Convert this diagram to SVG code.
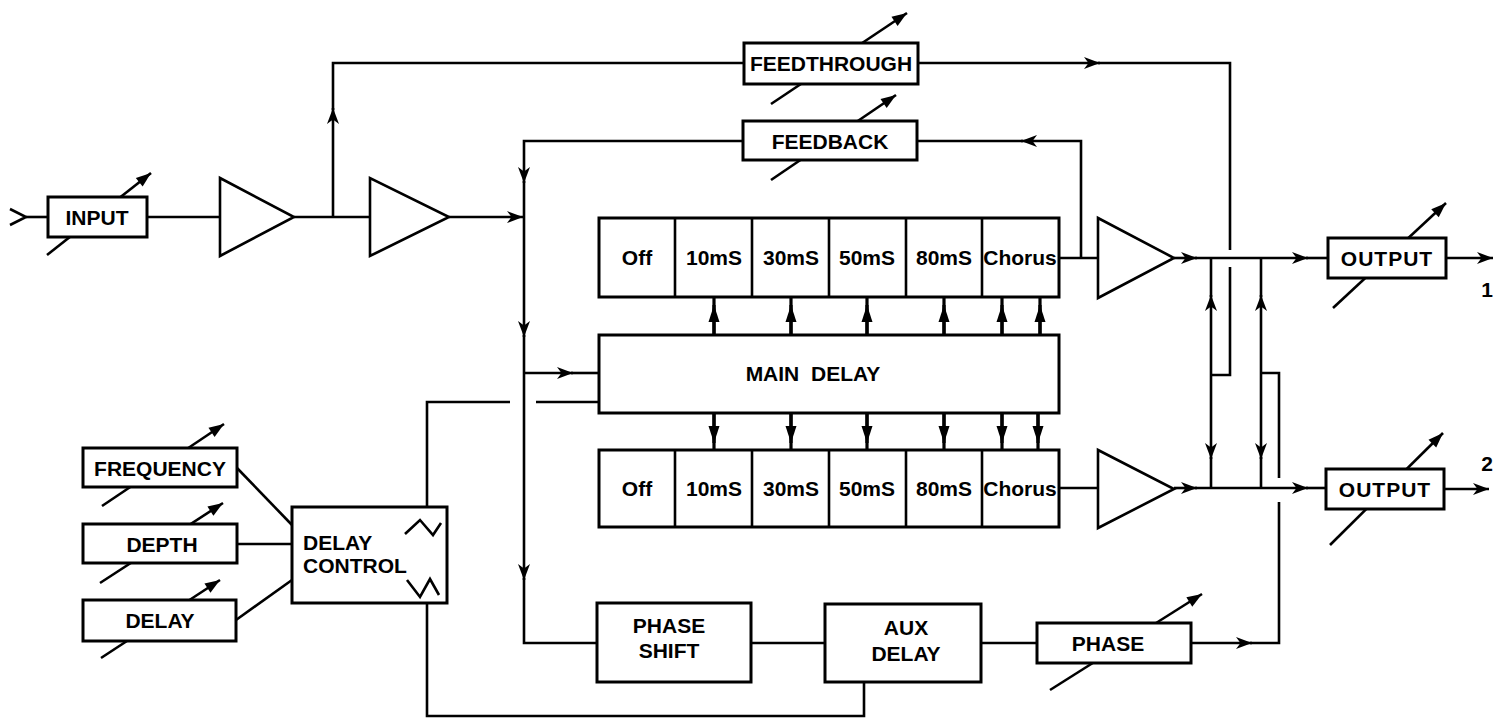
<svg xmlns="http://www.w3.org/2000/svg" width="1496" height="718" viewBox="0 0 1496 718">
<style>
.ln{fill:none;stroke:#000;stroke-width:2.6;stroke-linejoin:miter}
.bx{fill:#fff;stroke:#000;stroke-width:3}
.tri{fill:#fff;stroke:#000;stroke-width:2.6;stroke-linejoin:miter}
.ct{fill:none;stroke:#000;stroke-width:2.6}
.th{fill:none;stroke:#000;stroke-width:3.2}
.t{font-family:"Liberation Sans",Arial,sans-serif;font-weight:bold;font-size:21px;fill:#000;text-anchor:middle}
.tl{font-family:"Liberation Sans",Arial,sans-serif;font-weight:bold;font-size:21px;fill:#000}
</style>
<defs>
<marker id="ah" markerUnits="userSpaceOnUse" markerWidth="18" markerHeight="14" refX="16" refY="6.5" orient="auto" overflow="visible">
<path d="M0,0.5 L16,6.5 L0,12.5 L4.5,6.5 z" fill="#000"/>
</marker>
<marker id="ca" markerUnits="userSpaceOnUse" markerWidth="16" markerHeight="12" refX="15" refY="6" orient="auto" overflow="visible">
<path d="M0,0.5 L15,6 L0,11.5 z" fill="#000"/>
</marker>
<marker id="ta" markerUnits="userSpaceOnUse" markerWidth="18" markerHeight="12" refX="17" refY="6" orient="auto" overflow="visible">
<path d="M0,0.5 L17,6 L0,11.5 z" fill="#000"/>
</marker>
</defs>

<g id="connectors">
<path class="ln" d="M10,209 L26,217 L10,225"/>
<path class="ln" d="M26,217 L48,217"/>
<path class="ln" d="M147,217 L220,217"/>
<path class="ln" d="M294,217 L370,217"/>
<path class="ln" d="M449,217 L523,217" marker-end="url(#ah)"/>
<path class="ln" d="M333,217 L333,108" marker-end="url(#ah)"/>
<path class="ln" d="M333,110 L333,63 L1100,63" marker-end="url(#ah)"/>
<path class="ln" d="M1098,63 L1230,63 L1230,250"/>
<path class="ln" d="M1230,267 L1230,375 L1211,375"/>
<path class="ln" d="M1059,258 L1098,258"/>
<path class="ln" d="M1081,258 L1081,141 L1021,141" marker-end="url(#ah)"/>
<path class="ln" d="M1023,141 L917,141"/>
<path class="ln" d="M743,141 L524,141 L524,183" marker-end="url(#ah)"/>
<path class="ln" d="M524,181 L524,337" marker-end="url(#ah)"/>
<path class="ln" d="M524,335 L524,580" marker-end="url(#ah)"/>
<path class="ln" d="M524,578 L524,643 L597,643"/>
<path class="ln" d="M524,373 L573,373" marker-end="url(#ah)"/>
<path class="ln" d="M571,373 L599,373"/>
<path class="ln" d="M427,507 L427,402 L510,402"/>
<path class="ln" d="M536,402 L599,402"/>
<path class="ln" d="M864,682 L864,716 L427,716 L427,603"/>
<path class="ln" d="M237,468 L292,525"/>
<path class="ln" d="M237,544 L292,544"/>
<path class="ln" d="M236,620 L292,580"/>
<g class="th">
<path d="M714,335 L714,297"/>
<path d="M791,335 L791,297"/>
<path d="M867,335 L867,297"/>
<path d="M944,335 L944,297"/>
<path d="M1002,335 L1002,297"/>
<path d="M1040,335 L1040,297"/>
<path d="M714,336 L714,305" marker-end="url(#ta)"/>
<path d="M791,336 L791,305" marker-end="url(#ta)"/>
<path d="M867,336 L867,305" marker-end="url(#ta)"/>
<path d="M944,336 L944,305" marker-end="url(#ta)"/>
<path d="M1002,336 L1002,305" marker-end="url(#ta)"/>
<path d="M1040,336 L1040,305" marker-end="url(#ta)"/>
</g>
<g class="th">
<path d="M714,413 L714,450"/>
<path d="M791,413 L791,450"/>
<path d="M867,413 L867,450"/>
<path d="M944,413 L944,450"/>
<path d="M1002,413 L1002,450"/>
<path d="M1038,413 L1038,450"/>
<path d="M714,412 L714,443" marker-end="url(#ta)"/>
<path d="M791,412 L791,443" marker-end="url(#ta)"/>
<path d="M867,412 L867,443" marker-end="url(#ta)"/>
<path d="M944,412 L944,443" marker-end="url(#ta)"/>
<path d="M1002,412 L1002,443" marker-end="url(#ta)"/>
<path d="M1038,412 L1038,443" marker-end="url(#ta)"/>
</g>
<path class="ln" d="M1174,258 L1197,258" marker-end="url(#ah)"/>
<path class="ln" d="M1195,258 L1308,258" marker-end="url(#ah)"/>
<path class="ln" d="M1306,258 L1328,258"/>
<path class="ln" d="M1446,258 L1493,258" marker-end="url(#ah)"/>
<path class="ln" d="M1059,488 L1098,488"/>
<path class="ln" d="M1174,488 L1197,488" marker-end="url(#ah)"/>
<path class="ln" d="M1195,488 L1308,488" marker-end="url(#ah)"/>
<path class="ln" d="M1306,488 L1326,488"/>
<path class="ln" d="M1444,489 L1489,489" marker-end="url(#ah)"/>
<path class="ln" d="M1211,375 L1211,295" marker-end="url(#ah)"/>
<path class="ln" d="M1211,297 L1211,258"/>
<path class="ln" d="M1211,375 L1211,459" marker-end="url(#ah)"/>
<path class="ln" d="M1211,457 L1211,488"/>
<path class="ln" d="M1261,373 L1261,295" marker-end="url(#ah)"/>
<path class="ln" d="M1261,297 L1261,258"/>
<path class="ln" d="M1261,373 L1261,459" marker-end="url(#ah)"/>
<path class="ln" d="M1261,457 L1261,488"/>
<path class="ln" d="M751,643 L825,643"/>
<path class="ln" d="M981,643 L1037,643"/>
<path class="ln" d="M1191,643 L1252,643" marker-end="url(#ah)"/>
<path class="ln" d="M1250,643 L1279,643 L1279,502"/>
<path class="ln" d="M1279,478 L1279,373 L1261,373"/>
</g>

<g id="input">
<path class="ct" d="M47,255 L151,173" marker-end="url(#ca)"/>
<rect class="bx" x="48" y="197" width="99" height="40"/>
<text class="t" x="97" y="225">INPUT</text>
</g>
<g id="amp1"><path class="tri" d="M220,178 L220,256 L294,217 z"/></g>
<g id="amp2"><path class="tri" d="M370,178 L370,256 L449,217 z"/></g>

<g id="feedthrough">
<path class="ct" d="M771,104 L907,13" marker-end="url(#ca)"/>
<rect class="bx" x="744" y="43" width="174" height="41"/>
<text class="t" x="831" y="71">FEEDTHROUGH</text>
</g>
<g id="feedback">
<path class="ct" d="M771,180 L896,95" marker-end="url(#ca)"/>
<rect class="bx" x="743" y="121" width="174" height="39"/>
<text class="t" x="830" y="149">FEEDBACK</text>
</g>

<g id="taps1">
<rect class="bx" x="599" y="218" width="460" height="79"/>
<path class="ln" d="M675,218 V297 M752,218 V297 M829,218 V297 M906,218 V297 M982,218 V297" stroke-width="3"/>
<text class="t" x="637" y="265">Off</text>
<text class="t" x="714" y="265">10mS</text>
<text class="t" x="791" y="265">30mS</text>
<text class="t" x="867" y="265">50mS</text>
<text class="t" x="944" y="265">80mS</text>
<text class="t" x="1020" y="265">Chorus</text>
</g>

<g id="main-delay">
<rect class="bx" x="599" y="335" width="460" height="78"/>
<text class="t" x="813" y="381" word-spacing="6">MAIN DELAY</text>
</g>

<g id="taps2">
<rect class="bx" x="599" y="450" width="460" height="77"/>
<path class="ln" d="M675,450 V527 M752,450 V527 M829,450 V527 M906,450 V527 M982,450 V527" stroke-width="3"/>
<text class="t" x="637" y="496">Off</text>
<text class="t" x="714" y="496">10mS</text>
<text class="t" x="791" y="496">30mS</text>
<text class="t" x="867" y="496">50mS</text>
<text class="t" x="944" y="496">80mS</text>
<text class="t" x="1020" y="496">Chorus</text>
</g>

<g id="amp3"><path class="tri" d="M1098,218 L1098,298 L1174,258 z"/></g>
<g id="amp4"><path class="tri" d="M1098,450 L1098,528 L1174,489 z"/></g>

<g id="output1">
<path class="ct" d="M1333,308 L1446,203" marker-end="url(#ca)"/>
<rect class="bx" x="1328" y="238" width="118" height="40"/>
<text class="t" x="1387" y="266" letter-spacing="1">OUTPUT</text>
<text class="t" x="1487" y="297" font-size="22">1</text>
</g>
<g id="output2">
<path class="ct" d="M1330,545 L1443,433" marker-end="url(#ca)"/>
<rect class="bx" x="1326" y="469" width="118" height="40"/>
<text class="t" x="1385" y="497" letter-spacing="1">OUTPUT</text>
<text class="t" x="1487" y="471" font-size="22">2</text>
</g>

<g id="frequency">
<path class="ct" d="M102,506 L224,424" marker-end="url(#ca)"/>
<rect class="bx" x="83" y="448" width="154" height="39"/>
<text class="t" x="160" y="476">FREQUENCY</text>
</g>
<g id="depth">
<path class="ct" d="M100,583 L223,503" marker-end="url(#ca)"/>
<rect class="bx" x="83" y="524" width="154" height="39"/>
<text class="t" x="162" y="552">DEPTH</text>
</g>
<g id="delay">
<path class="ct" d="M101,658 L220,580" marker-end="url(#ca)"/>
<rect class="bx" x="83" y="600" width="153" height="41"/>
<text class="t" x="160" y="628">DELAY</text>
</g>

<g id="delay-control">
<rect class="bx" x="292" y="507" width="155" height="96"/>
<text class="tl" x="303" y="550">DELAY</text>
<text class="tl" x="303" y="573">CONTROL</text>
<path class="ln" d="M405,534 L420,520 L433,535 L441,523"/>
<path class="ln" d="M407,580 L420,597 L430,579 L439,595"/>
</g>

<g id="phase-shift">
<rect class="bx" x="597" y="603" width="154" height="79"/>
<text class="t" x="669" y="633">PHASE</text>
<text class="t" x="669" y="658">SHIFT</text>
</g>
<g id="aux-delay">
<rect class="bx" x="825" y="604" width="156" height="78"/>
<text class="t" x="906" y="635">AUX</text>
<text class="t" x="906" y="661">DELAY</text>
</g>
<g id="phase">
<path class="ct" d="M1050,690 L1202,594" marker-end="url(#ca)"/>
<rect class="bx" x="1037" y="623" width="154" height="40"/>
<text class="t" x="1108" y="651">PHASE</text>
</g>
</svg>
